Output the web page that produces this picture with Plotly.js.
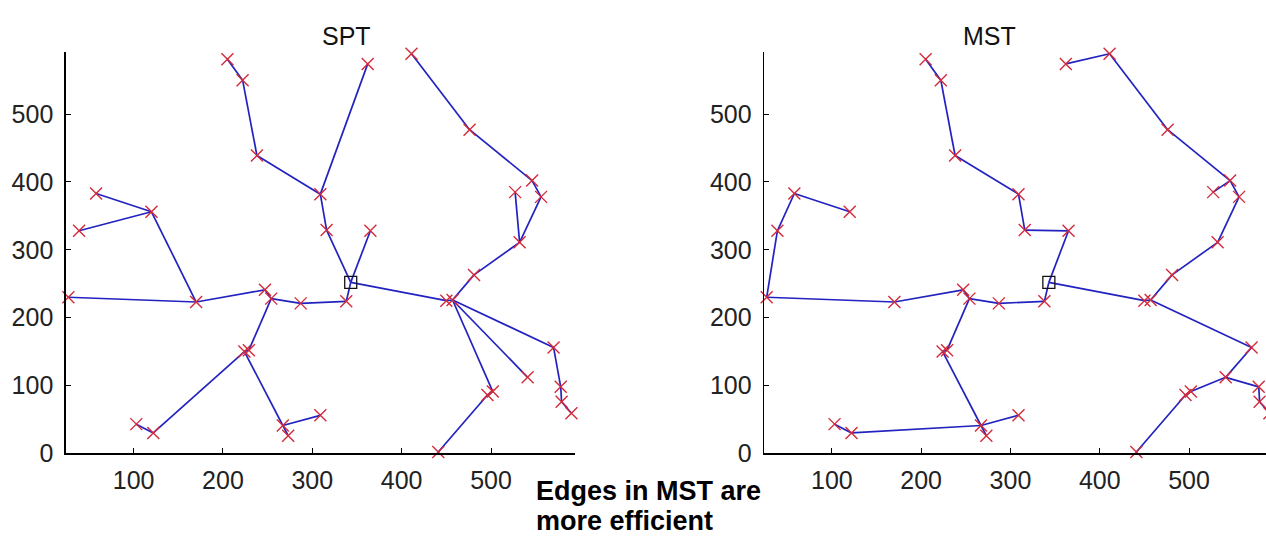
<!DOCTYPE html>
<html>
<head>
<meta charset="utf-8">
<script src="https://cdn.plot.ly/plotly-3.0.1.min.js"></script>
<style>
  html, body { margin: 0; padding: 0; background: #fff; overflow: hidden; }
  #chart { width: 1276px; height: 539px; }
</style>
</head>
<body>
<div id="chart"></div>
<script>
// Node coordinates (node 0 is the root / source)
const nodeX = [343, 338, 287, 254, 247, 170, 27, 120, 58, 39,
               229, 224, 122, 103, 267, 273, 309, 316, 309, 238,
               222, 205, 362, 365, 450, 457, 481, 532, 527, 556,
               546, 476, 411, 570, 578, 579, 590, 541, 496, 502, 441];
const nodeY = [252, 224, 221, 228, 241, 223, 230, 356, 383, 328,
               152, 150, 30, 43, 41, 26, 56, 329, 382, 439,
               550, 581, 574, 328, 225, 226, 263, 311, 385, 378,
               402, 477, 589, 156, 98, 76, 59, 112, 86, 91, 2];
const rootIndex = 0;

// Shortest-path tree edges (pairs of node indices)
const sptFrom = [0, 1, 2, 3, 4, 5, 5, 7, 7, 3, 10, 11, 12, 11, 14, 14,
                 0, 0, 17, 18, 19, 20, 18, 0, 24, 25, 26, 27, 27, 29, 30, 31,
                 25, 33, 34, 35, 25, 25, 39, 38];
const sptTo   = [1, 2, 3, 4, 5, 6, 7, 8, 9, 10, 11, 12, 13, 14, 15, 16,
                 17, 23, 18, 19, 20, 21, 22, 24, 25, 26, 27, 28, 29, 30, 31, 32,
                 33, 34, 35, 36, 37, 39, 38, 40];

// Minimum spanning tree edges
const mstFrom = [0, 0, 1, 2, 3, 4, 5, 6, 9, 8, 3, 10, 11, 14, 12, 14, 14,
                 23, 17, 18, 19, 20, 22, 32, 31, 30, 30, 29, 27, 26, 25, 24,
                 25, 33, 37, 34, 35, 37, 39, 38];
const mstTo   = [23, 1, 2, 3, 4, 5, 6, 9, 8, 7, 10, 11, 14, 12, 13, 15, 16,
                 17, 18, 19, 20, 21, 32, 31, 30, 28, 29, 27, 26, 25, 24, 0,
                 33, 37, 34, 35, 36, 39, 38, 40];

const panelTitles = ['SPT', 'MST'];
const xTicks = [100, 200, 300, 400, 500];
const yTicks = [0, 100, 200, 300, 400, 500];
const noteLines = ['Edges in MST are', 'more efficient'];

function edgeTrace(from, to, xa, ya) {
  const xs = [], ys = [];
  for (let i = 0; i < from.length; i++) {
    xs.push(nodeX[from[i]], nodeX[to[i]], null);
    ys.push(nodeY[from[i]], nodeY[to[i]], null);
  }
  return {
    type: 'scatter', mode: 'lines', x: xs, y: ys, xaxis: xa, yaxis: ya,
    line: { color: '#2222c0', width: 1.7 }, hoverinfo: 'skip', showlegend: false
  };
}

function nodeTrace(xa, ya) {
  const xs = [], ys = [];
  for (let i = 0; i < nodeX.length; i++) {
    if (i === rootIndex) continue;
    xs.push(nodeX[i]); ys.push(nodeY[i]);
  }
  return {
    type: 'scatter', mode: 'markers', x: xs, y: ys, xaxis: xa, yaxis: ya,
    marker: { symbol: 'x-thin', size: 12, line: { color: '#d42a3a', width: 1.4 } },
    cliponaxis: false, showlegend: false
  };
}

function rootTrace(xa, ya) {
  return {
    type: 'scatter', mode: 'markers', x: [nodeX[rootIndex]], y: [nodeY[rootIndex]],
    xaxis: xa, yaxis: ya,
    marker: { symbol: 'square-open', size: 12, color: '#111', line: { width: 1.3 } },
    showlegend: false
  };
}

const W = 1276, H = 539;
const FONT = 'Liberation Sans, Arial, sans-serif';
const tickFont = { family: FONT, size: 25, color: '#222' };

function xAxis(left, right, anchor) {
  return {
    domain: [left / W, right / W], range: [24, 594], anchor: anchor,
    tickvals: xTicks, ticks: 'inside', ticklen: 5, tickcolor: '#000',
    showline: true, linecolor: '#000', linewidth: 1.4,
    showgrid: false, zeroline: false, tickfont: tickFont, ticklabelstandoff: 4
  };
}
function yAxis(anchor) {
  return {
    domain: [(H - 453.3) / H, (H - 51.7) / H], range: [0, 592], anchor: anchor,
    tickvals: yTicks, ticks: 'inside', ticklen: 5, tickcolor: '#000',
    showline: true, linecolor: '#000', linewidth: 1.4,
    showgrid: false, zeroline: false, tickfont: tickFont, ticklabelstandoff: 6
  };
}

const data = [
  edgeTrace(sptFrom, sptTo, 'x', 'y'), nodeTrace('x', 'y'), rootTrace('x', 'y'),
  edgeTrace(mstFrom, mstTo, 'x2', 'y2'), nodeTrace('x2', 'y2'), rootTrace('x2', 'y2')
];

const noteFont = { family: FONT, size: 27, color: '#000' };
const layout = {
  width: W, height: H,
  margin: { l: 0, r: 0, t: 0, b: 0 },
  paper_bgcolor: '#fff', plot_bgcolor: '#fff',
  xaxis: xAxis(65.7, 575, 'y'), yaxis: yAxis('x'),
  xaxis2: xAxis(764, 1273, 'y2'), yaxis2: yAxis('x2'),
  annotations: [
    { text: panelTitles[0], xref: 'paper', yref: 'paper', x: 320 / W, y: (H - 20) / H,
      showarrow: false, font: { family: FONT, size: 25, color: '#111' } },
    { text: panelTitles[1], xref: 'paper', yref: 'paper', x: 1018 / W, y: (H - 20) / H,
      showarrow: false, font: { family: FONT, size: 25, color: '#111' } },
    { text: '<b>' + noteLines[0] + '</b>', xref: 'paper', yref: 'paper', x: 534 / W, y: (H - 491) / H,
      xanchor: 'left', yanchor: 'middle', align: 'left', showarrow: false, font: noteFont },
    { text: '<b>' + noteLines[1] + '</b>', xref: 'paper', yref: 'paper', x: 534 / W, y: (H - 521) / H,
      xanchor: 'left', yanchor: 'middle', align: 'left', showarrow: false, font: noteFont }
  ]
};

Plotly.newPlot('chart', data, layout, { displayModeBar: false, staticPlot: true });
</script>
</body>
</html>
